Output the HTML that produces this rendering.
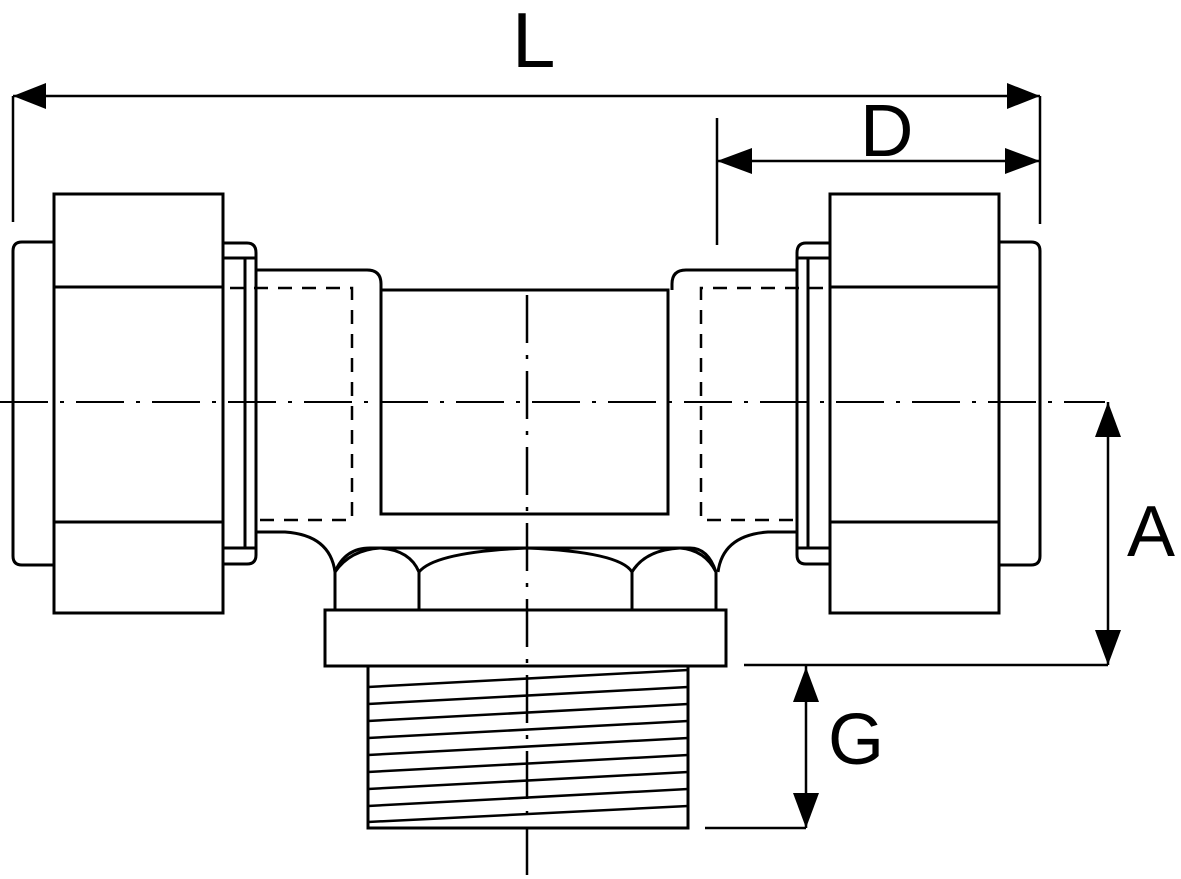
<!DOCTYPE html>
<html><head><meta charset="utf-8"><style>
html,body{margin:0;padding:0;background:#fff;}
svg{display:block;}
text{font-family:"Liberation Sans",sans-serif;fill:#000;}
</style></head><body>
<svg width="1181" height="879" viewBox="0 0 1181 879" xmlns="http://www.w3.org/2000/svg">
<g fill="none" stroke="#000" stroke-width="3">
  <line x1="0" y1="402" x2="1105" y2="402" stroke-width="2" stroke-dasharray="48,12,4,12"/>
  <line x1="527" y1="295" x2="527" y2="879" stroke-width="2.5" stroke-dasharray="48,12,4,12"/>

  <g id="half">
    <path d="M54,242 H22 Q13,242 13,251 V556 Q13,565 22,565 H54"/>
    <rect x="54" y="194" width="169" height="419"/>
    <line x1="54" y1="287" x2="223" y2="287"/>
    <line x1="54" y1="522" x2="223" y2="522"/>
    <path d="M223,243 H247 Q256,243 256,253 V555 Q256,564 247,564 H223"/>
    <line x1="223" y1="258" x2="256" y2="258"/>
    <line x1="223" y1="548" x2="256" y2="548"/>
    <line x1="245" y1="258" x2="245" y2="548"/>
    <path d="M256,270 H367 Q381,270 381,284 V290"/>
    <path d="M256,532 H285 Q330,535 335,572"/>
    <path d="M230,288 H352 V520 H258" stroke-dasharray="14,10" stroke-width="2.5"/>
  </g>
  <use href="#half" transform="translate(1053,0) scale(-1,1)"/>

  <path d="M381,290 H668 V514 H381 Z"/>

  <path d="M335,572 Q345,548 370,548 H690 Q708,548 716,572"/>
  <path d="M335,572 Q350,550 380,548"/>
  <path d="M419,572 Q410,550 380,548"/>
  <path d="M419,572 Q435,552 527,548 Q620,552 632,572"/>
  <path d="M632,572 Q645,550 680,548"/>
  <path d="M716,572 Q705,550 680,548"/>
  <line x1="335" y1="572" x2="335" y2="610"/>
  <line x1="419" y1="572" x2="419" y2="610"/>
  <line x1="632" y1="572" x2="632" y2="610"/>
  <line x1="716" y1="572" x2="716" y2="610"/>
  <rect x="325" y="610" width="401" height="56"/>

  <rect x="368" y="666" width="320" height="162"/>
  <g stroke-width="2.5">
    <line x1="368" y1="687" x2="688" y2="670"/>
    <line x1="368" y1="704" x2="688" y2="687"/>
    <line x1="368" y1="721" x2="688" y2="704"/>
    <line x1="368" y1="738" x2="688" y2="721"/>
    <line x1="368" y1="755" x2="688" y2="738"/>
    <line x1="368" y1="772" x2="688" y2="755"/>
    <line x1="368" y1="789" x2="688" y2="772"/>
    <line x1="368" y1="806" x2="688" y2="789"/>
    <line x1="368" y1="822" x2="688" y2="806"/>
  </g>

  <g stroke-width="2.5">
    <line x1="13" y1="96" x2="13" y2="222"/>
    <line x1="1040" y1="96" x2="1040" y2="224"/>
    <line x1="13" y1="96" x2="1040" y2="96"/>
    <line x1="717" y1="118" x2="717" y2="245"/>
    <line x1="717" y1="161" x2="1040" y2="161"/>
    <line x1="1108" y1="402" x2="1108" y2="665"/>
    <line x1="744" y1="665" x2="1108" y2="665"/>
    <line x1="806" y1="666" x2="806" y2="828"/>
    <line x1="705" y1="828" x2="806" y2="828"/>
  </g>
</g>
<g fill="#000">
  <polygon points="13,96 46,83 46,109"/>
  <polygon points="1040,96 1007,83 1007,109"/>
  <polygon points="717,161 752,148 752,174"/>
  <polygon points="1040,161 1005,148 1005,174"/>
  <polygon points="1108,402 1095,437 1121,437"/>
  <polygon points="1108,665 1095,630 1121,630"/>
  <polygon points="806,667 793,702 819,702"/>
  <polygon points="806,828 793,793 819,793"/>
</g>
<text x="512" y="67" font-size="78">L</text>
<text x="860" y="156" font-size="74">D</text>
<text x="1127" y="556" font-size="72">A</text>
<text x="828" y="764" font-size="72">G</text>
</svg>
</body></html>
